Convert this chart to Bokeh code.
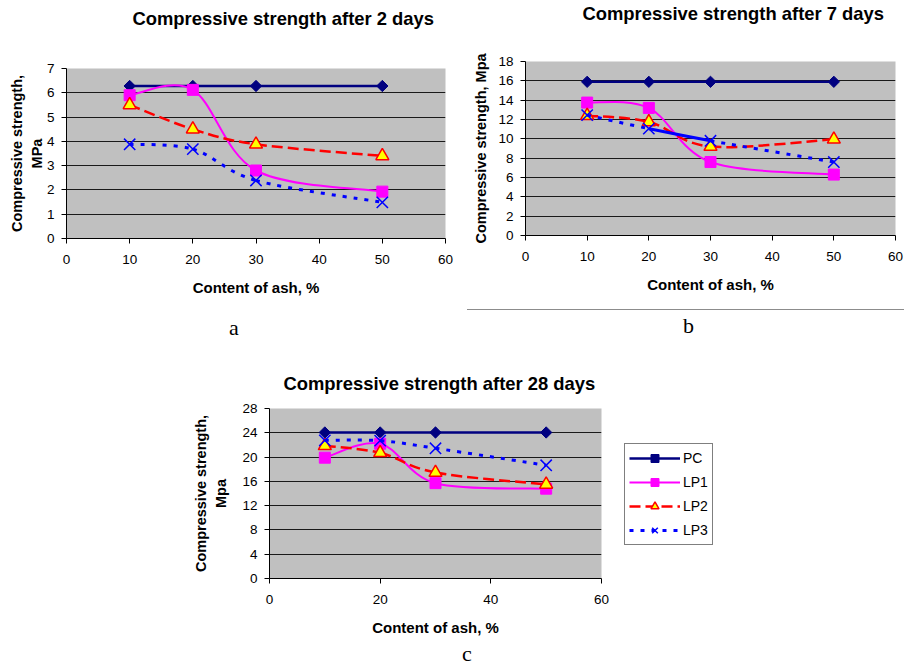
import math
from bokeh.plotting import figure
from bokeh.models import Title, Legend, LegendItem, FixedTicker, Spacer, Range1d, Div
from bokeh.layouts import row, column
from bokeh.embed import file_html
from bokeh.resources import INLINE

# ---------------- data ----------------
ash = [10, 20, 30, 50]
series_names = ["PC", "LP1", "LP2", "LP3"]

pc_2d = [6.28, 6.28, 6.28, 6.28]
lp1_2d = [5.9, 6.12, 2.8, 1.93]
lp2_2d = [5.5, 4.5, 3.88, 3.4]
lp3_2d = [3.88, 3.68, 2.39, 1.49]

pc_7d = [15.9, 15.9, 15.9, 15.9]
lp1_7d = [13.75, 13.2, 7.6, 6.3]
lp2_7d = [12.4, 11.75, 9.2, 9.95]
lp3_7d = [12.45, 11.05, 9.8, 7.6]

pc_28d = [24.05, 24.05, 24.05, 24.05]
lp1_28d = [19.9, 22.2, 15.7, 14.8]
lp2_28d = [21.85, 20.7, 17.45, 15.5]
lp3_28d = [22.75, 22.7, 21.45, 18.65]

x_ticks_ab = [0, 10, 20, 30, 40, 50, 60]
x_ticks_c = [0, 20, 40, 60]
y_ticks_2d = [0, 1, 2, 3, 4, 5, 6, 7]
y_ticks_7d = [0, 2, 4, 6, 8, 10, 12, 14, 16, 18]
y_ticks_28d = [0, 4, 8, 12, 16, 20, 24, 28]

FONT = "Liberation Sans"
SERIF = "Liberation Serif"

STY = {
    "PC": dict(color="#000080", width=2.5, dash="solid", smooth=False,
               marker="square", angle=math.pi / 4, size=8, fill="#000080", mline="#000080", mw=1),
    "LP1": dict(color="#FF00FF", width=2, dash="solid", smooth=True,
                marker="square", angle=0, size=11, fill="#FF00FF", mline="#FF00FF", mw=1),
    "LP2": dict(color="#FF0000", width=2.5, dash="11 5", smooth=True,
                marker="triangle", angle=0, size=13, fill="#FFFF00", mline="#FF0000", mw=1.5),
    "LP3": dict(color="#0000FF", width=3, dash="4 7", smooth=True,
                marker="x", angle=0, size=16, fill=None, mline="#0000FF", mw=1.5),
}


def bezier_parts(xs, ys):
    n = len(xs)
    out = []
    for i in range(n - 1):
        a = i - 1 if i > 0 else i
        d = i + 2 if i + 2 < n else i + 1
        cx0 = xs[i] + (xs[i + 1] - xs[a]) / 6.0
        cy0 = ys[i] + (ys[i + 1] - ys[a]) / 6.0
        cx1 = xs[i + 1] - (xs[d] - xs[i]) / 6.0
        cy1 = ys[i + 1] - (ys[d] - ys[i]) / 6.0
        out.append((xs[i], ys[i], xs[i + 1], ys[i + 1], cx0, cy0, cx1, cy1))
    return out


def gap_title(px):
    return Title(text=" ", text_font=FONT, text_font_size="1px", standoff=max(px - 1, 0))


def make_panel(title, vals, yticks, ylabel, xticks, fw, fh, bl, br, bt, bb,
               t_off, t_gap, ylab_stand, solid_segs=None):
    solid_segs = solid_segs or {}
    p = figure(frame_width=fw, frame_height=fh, min_border_left=bl, min_border_right=br,
               min_border_top=bt, min_border_bottom=bb,
               x_range=Range1d(0, 60), y_range=Range1d(yticks[0], yticks[-1]),
               output_backend="svg", toolbar_location=None, tools="")
    p.title = Title(text=title, align="left", offset=t_off, standoff=0,
                    text_font=FONT, text_font_size="18.4px", text_font_style="bold",
                    text_color="black")
    p.add_layout(gap_title(t_gap), "above")
    p.background_fill_color = "#C0C0C0"
    p.border_fill_color = "white"
    p.outline_line_color = None
    p.xgrid.visible = False
    p.ygrid.ticker = FixedTicker(ticks=yticks[1:-1])
    p.ygrid.grid_line_color = "#1a1a1a"
    p.ygrid.grid_line_width = 1

    for ax in (p.xaxis[0], p.yaxis[0]):
        ax.axis_line_color = "black"
        ax.axis_line_width = 1
        ax.major_tick_line_color = "black"
        ax.major_tick_out = 5
        ax.major_tick_in = 0
        ax.minor_tick_out = 0
        ax.minor_tick_in = 0
        ax.major_label_text_font = FONT
        ax.major_label_text_font_size = "13.5px"
        ax.major_label_text_color = "black"
        ax.axis_label_text_font = FONT
        ax.axis_label_text_font_style = "bold"
        ax.axis_label_text_color = "black"
    p.xaxis[0].ticker = FixedTicker(ticks=xticks)
    p.yaxis[0].ticker = FixedTicker(ticks=yticks)
    p.xaxis[0].axis_label = "Content of ash, %"
    p.xaxis[0].axis_label_text_font_size = "15px"
    p.xaxis[0].major_label_standoff = 11
    p.xaxis[0].axis_label_standoff = 12
    p.yaxis[0].axis_label = ylabel
    p.yaxis[0].axis_label_text_font_size = "14.5px"
    p.yaxis[0].major_label_standoff = 7
    p.yaxis[0].axis_label_standoff = ylab_stand
    p.yaxis[0].axis_label_text_line_height = 1.25

    rends = {}
    for name, ys in zip(series_names, vals):
        st = STY[name]
        if st["smooth"]:
            parts = bezier_parts(ash, ys)
            special = solid_segs.get(name, [])
            groups = [([s for k, s in enumerate(parts) if k not in special], st["dash"]),
                      ([s for k, s in enumerate(parts) if k in special], "solid")]
            line_r = None
            for segs, dash in groups:
                if not segs:
                    continue
                r = p.bezier(x0=[s[0] for s in segs], y0=[s[1] for s in segs],
                             x1=[s[2] for s in segs], y1=[s[3] for s in segs],
                             cx0=[s[4] for s in segs], cy0=[s[5] for s in segs],
                             cx1=[s[6] for s in segs], cy1=[s[7] for s in segs],
                             line_color=st["color"], line_width=st["width"], line_dash=dash)
                if line_r is None:
                    line_r = r
        else:
            line_r = p.line(ash, ys, line_color=st["color"], line_width=st["width"])
        sc = p.scatter(ash, ys, marker=st["marker"], size=st["size"], angle=st["angle"],
                       fill_color=st["fill"], line_color=st["mline"], line_width=st["mw"])
        rends[name] = (line_r, sc)
    return p, rends


def letter_div(txt, width, height, pad_left, pad_top):
    return Div(text=txt, width=width, height=height, margin=0,
               styles={"font-family": SERIF, "font-size": "22px", "line-height": "18px",
                       "padding-left": "%dpx" % pad_left, "padding-top": "%dpx" % pad_top,
                       "color": "black", "overflow": "visible"})


pa, _ = make_panel("Compressive strength after 2 days", [pc_2d, lp1_2d, lp2_2d, lp3_2d],
                   y_ticks_2d, "Compressive strength,\nMPa", x_ticks_ab,
                   fw=379, fh=170, bl=66, br=15, bt=68, bb=62,
                   t_off=66, t_gap=38, ylab_stand=-1)
div_a = letter_div("a", 460, 40, 229, 19)

pb, _ = make_panel("Compressive strength after 7 days", [pc_7d, lp1_7d, lp2_7d, lp3_7d],
                   y_ticks_7d, "Compressive strength, Mpa", x_ticks_ab,
                   fw=370, fh=174, bl=65, br=9, bt=61, bb=74,
                   t_off=57, t_gap=36, ylab_stand=6, solid_segs={"LP3": [1]})
sep = row(Spacer(width=7, height=1),
          Spacer(width=437, height=1, styles={"background": "#8c8c8c"}))
div_b = letter_div("b", 444, 30, 223, 7)

pc, rc = make_panel("Compressive strength after 28 days", [pc_28d, lp1_28d, lp2_28d, lp3_28d],
                    y_ticks_28d, "Compressive strength,\nMpa", x_ticks_c,
                    fw=332, fh=170, bl=84, br=123, bt=68, bb=60,
                    t_off=14, t_gap=13, ylab_stand=10)

legend = Legend(items=[LegendItem(label=n, renderers=list(rc[n])) for n in series_names],
                location=(23, 33), orientation="vertical",
                glyph_width=51, glyph_height=20, label_standoff=3, spacing=4,
                padding=4, margin=0, label_height=20,
                label_text_font=FONT, label_text_font_size="14px", label_text_color="black",
                border_line_color="black", border_line_width=1,
                background_fill_color="white", background_fill_alpha=1)
pc.add_layout(legend, "right")
div_c = letter_div("c", 540, 26, 277, 7)

layout = column(row(column(pa, div_a), column(pb, sep, div_b)),
                row(Spacer(width=185, height=324), column(pc, div_c)))

open("out.html", "w").write(file_html(layout, INLINE))
